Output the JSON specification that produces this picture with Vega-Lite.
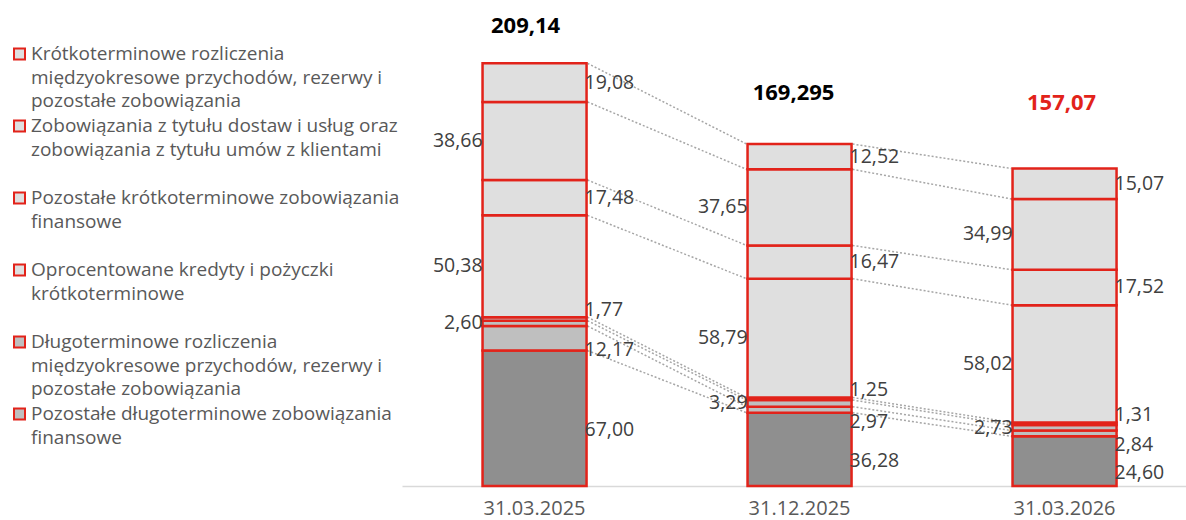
{
  "$schema": "https://vega.github.io/schema/vega-lite/v6.json",
  "width": 784,
  "height": 485,
  "autosize": {"type": "none"},
  "padding": {"left": 402, "top": 1, "right": 0, "bottom": 34},
  "datasets": {
    "seg": [
      {"date": "31.03.2025", "series": "Oprocentowane kredyty i pożyczki długoterminowe", "value": 67.00},
      {"date": "31.03.2025", "series": "Rezerwa z tytułu odroczonego podatku dochodowego", "value": 12.17},
      {"date": "31.03.2025", "series": "Pozostałe długoterminowe zobowiązania finansowe", "value": 2.60},
      {"date": "31.03.2025", "series": "Długoterminowe rozliczenia międzyokresowe przychodów, rezerwy i pozostałe zobowiązania", "value": 1.77},
      {"date": "31.03.2025", "series": "Oprocentowane kredyty i pożyczki krótkoterminowe", "value": 50.38},
      {"date": "31.03.2025", "series": "Pozostałe krótkoterminowe zobowiązania finansowe", "value": 17.48},
      {"date": "31.03.2025", "series": "Zobowiązania z tytułu dostaw i usług oraz zobowiązania z tytułu umów z klientami", "value": 38.66},
      {"date": "31.03.2025", "series": "Krótkoterminowe rozliczenia międzyokresowe przychodów, rezerwy i pozostałe zobowiązania", "value": 19.08},
      {"date": "31.12.2025", "series": "Oprocentowane kredyty i pożyczki długoterminowe", "value": 36.28},
      {"date": "31.12.2025", "series": "Rezerwa z tytułu odroczonego podatku dochodowego", "value": 2.97},
      {"date": "31.12.2025", "series": "Pozostałe długoterminowe zobowiązania finansowe", "value": 3.29},
      {"date": "31.12.2025", "series": "Długoterminowe rozliczenia międzyokresowe przychodów, rezerwy i pozostałe zobowiązania", "value": 1.25},
      {"date": "31.12.2025", "series": "Oprocentowane kredyty i pożyczki krótkoterminowe", "value": 58.79},
      {"date": "31.12.2025", "series": "Pozostałe krótkoterminowe zobowiązania finansowe", "value": 16.47},
      {"date": "31.12.2025", "series": "Zobowiązania z tytułu dostaw i usług oraz zobowiązania z tytułu umów z klientami", "value": 37.65},
      {"date": "31.12.2025", "series": "Krótkoterminowe rozliczenia międzyokresowe przychodów, rezerwy i pozostałe zobowiązania", "value": 12.52},
      {"date": "31.03.2026", "series": "Oprocentowane kredyty i pożyczki długoterminowe", "value": 24.60},
      {"date": "31.03.2026", "series": "Rezerwa z tytułu odroczonego podatku dochodowego", "value": 2.84},
      {"date": "31.03.2026", "series": "Pozostałe długoterminowe zobowiązania finansowe", "value": 2.73},
      {"date": "31.03.2026", "series": "Długoterminowe rozliczenia międzyokresowe przychodów, rezerwy i pozostałe zobowiązania", "value": 1.31},
      {"date": "31.03.2026", "series": "Oprocentowane kredyty i pożyczki krótkoterminowe", "value": 58.02},
      {"date": "31.03.2026", "series": "Pozostałe krótkoterminowe zobowiązania finansowe", "value": 17.52},
      {"date": "31.03.2026", "series": "Zobowiązania z tytułu dostaw i usług oraz zobowiązania z tytułu umów z klientami", "value": 34.99},
      {"date": "31.03.2026", "series": "Krótkoterminowe rozliczenia międzyokresowe przychodów, rezerwy i pozostałe zobowiązania", "value": 15.07}
    ],
    "tot": [
      {"date": "31.03.2025", "total": 209.14},
      {"date": "31.12.2025", "total": 169.295},
      {"date": "31.03.2026", "total": 157.07}
    ]
  },
  "data": {"name": "seg"},
  "config": {
    "font": "Open Sans",
    "view": {"stroke": null},
    "locale": {"number": {"decimal": ",", "thousands": " ", "grouping": [3], "currency": ["", " zł"]}}
  },
  "encoding": {
    "x": {
      "field": "date",
      "type": "nominal",
      "sort": null,
      "scale": {"domain": ["31.03.2025", "31.12.2025", "31.03.2026"], "paddingInner": 0.6075, "paddingOuter": 0.283, "align": 0.537},
      "axis": {"title": null, "labelAngle": 0, "ticks": false, "tickSize": 0, "domainColor": "#D9D9D9", "domainWidth": 1.5, "labelFont": "Open Sans", "labelFontSize": 20, "labelColor": "#595959", "labelPadding": 12, "grid": false}
    }
  },
  "layer": [
    {
      "transform": [
        {"calculate": "indexof(['Oprocentowane kredyty i pożyczki długoterminowe', 'Rezerwa z tytułu odroczonego podatku dochodowego', 'Pozostałe długoterminowe zobowiązania finansowe', 'Długoterminowe rozliczenia międzyokresowe przychodów, rezerwy i pozostałe zobowiązania', 'Oprocentowane kredyty i pożyczki krótkoterminowe', 'Pozostałe krótkoterminowe zobowiązania finansowe', 'Zobowiązania z tytułu dostaw i usług oraz zobowiązania z tytułu umów z klientami', 'Krótkoterminowe rozliczenia międzyokresowe przychodów, rezerwy i pozostałe zobowiązania'], datum.series)", "as": "k"},
        {"calculate": "indexof(['31.03.2025', '31.12.2025', '31.03.2026'], datum.date)", "as": "di"},
        {"stack": "value", "groupby": ["date"], "sort": [{"field": "k", "order": "ascending"}], "as": ["v0", "v1"]},
        {"window": [{"op": "lead", "field": "v1", "as": "nv1"}, {"op": "lead", "field": "date", "as": "ndate"}], "groupby": ["series"], "sort": [{"field": "di", "order": "ascending"}]},
        {"filter": "datum.ndate != null"}
      ],
      "mark": {"type": "rule", "strokeDash": [2, 2], "color": "#A6A6A6", "strokeWidth": 1.5, "xOffset": 53, "x2Offset": -53},
      "encoding": {
        "x2": {"field": "ndate"},
        "y": {"field": "v1", "type": "quantitative", "scale": {"domain": [0, 240]}, "axis": null},
        "y2": {"field": "nv1"}
      }
    },
    {
      "transform": [
        {"calculate": "indexof(['Oprocentowane kredyty i pożyczki długoterminowe', 'Rezerwa z tytułu odroczonego podatku dochodowego', 'Pozostałe długoterminowe zobowiązania finansowe', 'Długoterminowe rozliczenia międzyokresowe przychodów, rezerwy i pozostałe zobowiązania', 'Oprocentowane kredyty i pożyczki krótkoterminowe', 'Pozostałe krótkoterminowe zobowiązania finansowe', 'Zobowiązania z tytułu dostaw i usług oraz zobowiązania z tytułu umów z klientami', 'Krótkoterminowe rozliczenia międzyokresowe przychodów, rezerwy i pozostałe zobowiązania'], datum.series)", "as": "k"}
      ],
      "mark": {"type": "bar", "stroke": "#E2231A", "strokeWidth": 2.5, "opacity": 1},
      "encoding": {
        "y": {"field": "value", "type": "quantitative", "stack": "zero", "scale": {"domain": [0, 240]}, "axis": null},
        "order": {"field": "k", "type": "quantitative"},
        "color": {
          "field": "series",
          "type": "nominal",
          "scale": {
            "domain": ["Krótkoterminowe rozliczenia międzyokresowe przychodów, rezerwy i pozostałe zobowiązania", "Zobowiązania z tytułu dostaw i usług oraz zobowiązania z tytułu umów z klientami", "Pozostałe krótkoterminowe zobowiązania finansowe", "Oprocentowane kredyty i pożyczki krótkoterminowe", "Długoterminowe rozliczenia międzyokresowe przychodów, rezerwy i pozostałe zobowiązania", "Pozostałe długoterminowe zobowiązania finansowe", "Rezerwa z tytułu odroczonego podatku dochodowego", "Oprocentowane kredyty i pożyczki długoterminowe"],
            "range": ["#DFDFDF", "#DFDFDF", "#DFDFDF", "#DFDFDF", "#BFBFBF", "#BFBFBF", "#BFBFBF", "#8F8F8F"]
          },
          "legend": {
            "orient": "none",
            "legendX": -392,
            "legendY": 43.5,
            "title": null,
            "direction": "vertical",
            "columns": 1,
            "padding": 0,
            "values": ["Krótkoterminowe rozliczenia międzyokresowe przychodów, rezerwy i pozostałe zobowiązania", "Zobowiązania z tytułu dostaw i usług oraz zobowiązania z tytułu umów z klientami", "Pozostałe krótkoterminowe zobowiązania finansowe", "Oprocentowane kredyty i pożyczki krótkoterminowe", "Długoterminowe rozliczenia międzyokresowe przychodów, rezerwy i pozostałe zobowiązania", "Pozostałe długoterminowe zobowiązania finansowe"],
            "symbolType": "square",
            "symbolSize": 121,
            "symbolStrokeWidth": 2,
            "symbolStrokeColor": "#E2231A",
            "symbolOpacity": 1,
            "labelFont": "Open Sans",
            "labelFontSize": 19,
            "labelColor": "#595959",
            "labelLimit": 420,
            "labelOffset": 2,
            "rowPadding": 5,
            "gridAlign": "all",
            "labelExpr": "datum.label == 'Krótkoterminowe rozliczenia międzyokresowe przychodów, rezerwy i pozostałe zobowiązania' ? ['Krótkoterminowe rozliczenia', 'międzyokresowe przychodów, rezerwy i', 'pozostałe zobowiązania'] : datum.label == 'Zobowiązania z tytułu dostaw i usług oraz zobowiązania z tytułu umów z klientami' ? ['Zobowiązania z tytułu dostaw i usług oraz', 'zobowiązania z tytułu umów z klientami'] : datum.label == 'Pozostałe krótkoterminowe zobowiązania finansowe' ? ['Pozostałe krótkoterminowe zobowiązania', 'finansowe'] : datum.label == 'Oprocentowane kredyty i pożyczki krótkoterminowe' ? ['Oprocentowane kredyty i pożyczki', 'krótkoterminowe'] : datum.label == 'Długoterminowe rozliczenia międzyokresowe przychodów, rezerwy i pozostałe zobowiązania' ? ['Długoterminowe rozliczenia', 'międzyokresowe przychodów, rezerwy i', 'pozostałe zobowiązania'] : datum.label == 'Pozostałe długoterminowe zobowiązania finansowe' ? ['Pozostałe długoterminowe zobowiązania', 'finansowe'] : datum.label",
            "encode": {
              "symbols": {"update": {"stroke": {"value": "#E2231A"}, "strokeWidth": {"value": 2}, "opacity": {"value": 1}}},
              "labels": {"update": {"lineHeight": {"value": 23.5}}}
            }
          }
        }
      }
    },
    {
      "transform": [
        {"calculate": "indexof(['Oprocentowane kredyty i pożyczki długoterminowe', 'Rezerwa z tytułu odroczonego podatku dochodowego', 'Pozostałe długoterminowe zobowiązania finansowe', 'Długoterminowe rozliczenia międzyokresowe przychodów, rezerwy i pozostałe zobowiązania', 'Oprocentowane kredyty i pożyczki krótkoterminowe', 'Pozostałe krótkoterminowe zobowiązania finansowe', 'Zobowiązania z tytułu dostaw i usług oraz zobowiązania z tytułu umów z klientami', 'Krótkoterminowe rozliczenia międzyokresowe przychodów, rezerwy i pozostałe zobowiązania'], datum.series)", "as": "k"}
      ],
      "mark": {"type": "text", "align": "left", "baseline": "middle", "dx": 50, "dy": 0, "font": "Open Sans", "fontSize": 19.5, "color": "#404040"},
      "encoding": {
        "y": {"field": "value", "type": "quantitative", "stack": "zero", "bandPosition": 0.5, "scale": {"domain": [0, 240]}, "axis": null},
        "detail": {"field": "series"},
        "order": {"field": "k", "type": "quantitative"},
        "text": {"condition": {"test": "datum.k != 7 && datum.k != 5", "value": ""}, "field": "value", "type": "quantitative", "format": ".2f"}
      }
    },
    {
      "transform": [
        {"calculate": "indexof(['Oprocentowane kredyty i pożyczki długoterminowe', 'Rezerwa z tytułu odroczonego podatku dochodowego', 'Pozostałe długoterminowe zobowiązania finansowe', 'Długoterminowe rozliczenia międzyokresowe przychodów, rezerwy i pozostałe zobowiązania', 'Oprocentowane kredyty i pożyczki krótkoterminowe', 'Pozostałe krótkoterminowe zobowiązania finansowe', 'Zobowiązania z tytułu dostaw i usług oraz zobowiązania z tytułu umów z klientami', 'Krótkoterminowe rozliczenia międzyokresowe przychodów, rezerwy i pozostałe zobowiązania'], datum.series)", "as": "k"}
      ],
      "mark": {"type": "text", "align": "left", "baseline": "middle", "dx": 50, "dy": -9, "font": "Open Sans", "fontSize": 19.5, "color": "#404040"},
      "encoding": {
        "y": {"field": "value", "type": "quantitative", "stack": "zero", "bandPosition": 0.5, "scale": {"domain": [0, 240]}, "axis": null},
        "detail": {"field": "series"},
        "order": {"field": "k", "type": "quantitative"},
        "text": {"condition": {"test": "datum.k != 3", "value": ""}, "field": "value", "type": "quantitative", "format": ".2f"}
      }
    },
    {
      "transform": [
        {"calculate": "indexof(['Oprocentowane kredyty i pożyczki długoterminowe', 'Rezerwa z tytułu odroczonego podatku dochodowego', 'Pozostałe długoterminowe zobowiązania finansowe', 'Długoterminowe rozliczenia międzyokresowe przychodów, rezerwy i pozostałe zobowiązania', 'Oprocentowane kredyty i pożyczki krótkoterminowe', 'Pozostałe krótkoterminowe zobowiązania finansowe', 'Zobowiązania z tytułu dostaw i usług oraz zobowiązania z tytułu umów z klientami', 'Krótkoterminowe rozliczenia międzyokresowe przychodów, rezerwy i pozostałe zobowiązania'], datum.series)", "as": "k"}
      ],
      "mark": {"type": "text", "align": "left", "baseline": "middle", "dx": 50, "dy": 12, "font": "Open Sans", "fontSize": 19.5, "color": "#404040"},
      "encoding": {
        "y": {"field": "value", "type": "quantitative", "stack": "zero", "bandPosition": 0.5, "scale": {"domain": [0, 240]}, "axis": null},
        "detail": {"field": "series"},
        "order": {"field": "k", "type": "quantitative"},
        "text": {"condition": {"test": "datum.k != 0 && datum.k != 1", "value": ""}, "field": "value", "type": "quantitative", "format": ".2f"}
      }
    },
    {
      "transform": [
        {"calculate": "indexof(['Oprocentowane kredyty i pożyczki długoterminowe', 'Rezerwa z tytułu odroczonego podatku dochodowego', 'Pozostałe długoterminowe zobowiązania finansowe', 'Długoterminowe rozliczenia międzyokresowe przychodów, rezerwy i pozostałe zobowiązania', 'Oprocentowane kredyty i pożyczki krótkoterminowe', 'Pozostałe krótkoterminowe zobowiązania finansowe', 'Zobowiązania z tytułu dostaw i usług oraz zobowiązania z tytułu umów z klientami', 'Krótkoterminowe rozliczenia międzyokresowe przychodów, rezerwy i pozostałe zobowiązania'], datum.series)", "as": "k"}
      ],
      "mark": {"type": "text", "align": "right", "baseline": "middle", "dx": -52, "dy": 0, "font": "Open Sans", "fontSize": 19.5, "color": "#404040"},
      "encoding": {
        "y": {"field": "value", "type": "quantitative", "stack": "zero", "bandPosition": 0.5, "scale": {"domain": [0, 240]}, "axis": null},
        "detail": {"field": "series"},
        "order": {"field": "k", "type": "quantitative"},
        "text": {"condition": {"test": "datum.k != 6 && datum.k != 4 && datum.k != 2", "value": ""}, "field": "value", "type": "quantitative", "format": ".2f"}
      }
    },
    {
      "data": {"name": "tot"},
      "transform": [{"filter": "datum.date == '31.03.2025'"}],
      "mark": {"type": "text", "align": "center", "baseline": "middle", "dx": -9, "dy": -37, "font": "Open Sans", "fontSize": 22, "fontWeight": "bold", "color": "#000000"},
      "encoding": {
        "y": {"field": "total", "type": "quantitative", "scale": {"domain": [0, 240]}, "axis": null},
        "text": {"field": "total", "type": "quantitative", "format": "~f"}
      }
    },
    {
      "data": {"name": "tot"},
      "transform": [{"filter": "datum.date == '31.12.2025'"}],
      "mark": {"type": "text", "align": "center", "baseline": "middle", "dx": -6, "dy": -51, "font": "Open Sans", "fontSize": 22, "fontWeight": "bold", "color": "#000000"},
      "encoding": {
        "y": {"field": "total", "type": "quantitative", "scale": {"domain": [0, 240]}, "axis": null},
        "text": {"field": "total", "type": "quantitative", "format": "~f"}
      }
    },
    {
      "data": {"name": "tot"},
      "transform": [{"filter": "datum.date == '31.03.2026'"}],
      "mark": {"type": "text", "align": "center", "baseline": "middle", "dx": -3, "dy": -66, "font": "Open Sans", "fontSize": 22, "fontWeight": "bold", "color": "#E2231A"},
      "encoding": {
        "y": {"field": "total", "type": "quantitative", "scale": {"domain": [0, 240]}, "axis": null},
        "text": {"field": "total", "type": "quantitative", "format": "~f"}
      }
    }
  ]
}
